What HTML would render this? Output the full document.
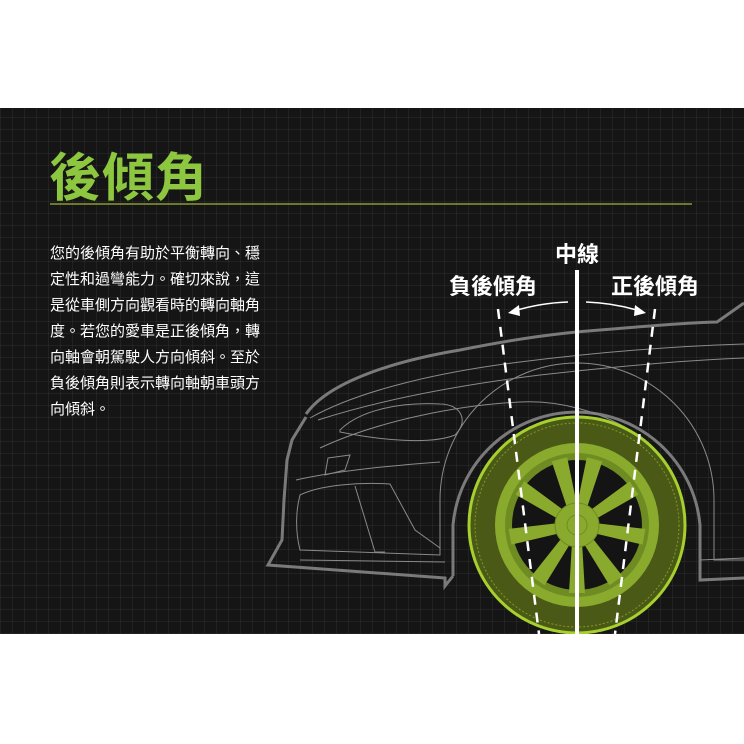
<!DOCTYPE html>
<html><head><meta charset="utf-8"><style>
html,body{margin:0;padding:0;background:#fff;}
body{width:744px;height:744px;position:relative;overflow:hidden;font-family:"Liberation Sans","Noto Sans CJK TC",sans-serif;}
#panel{position:absolute;left:0;top:108px;width:744px;height:526px;background-color:#151515;
background-image:repeating-linear-gradient(0deg,rgba(255,255,255,0.05) 0 1px,transparent 1px 12px),repeating-linear-gradient(90deg,rgba(255,255,255,0.05) 0 1px,transparent 1px 12px);}
.t{position:absolute;color:#fff;white-space:nowrap;}
</style></head><body>
<div id="panel"></div>
<svg width="744" height="744" style="position:absolute;left:0;top:0">
<defs><clipPath id="c"><rect x="0" y="108" width="744" height="526"/></clipPath></defs>
<g clip-path="url(#c)" fill="none">
<line x1="50" y1="204" x2="692" y2="204" stroke="#8a9a34" stroke-width="1.5"/>
<g stroke="#7a7a7a" stroke-width="3">
<path d="M306,414 C330,380 400,360 460,350 C520,338 560,333 600,330 C660,325 700,322 717,322 L744,303"/>
<path d="M306,417 L292,440 L287,460 L284,500 L282,540 L268,565 L445,578 L445,586 L453,576"/>
<path d="M453,576 L453,525 A124,124 0 0 1 700,525 L700,580 L744,578"/>
</g>
<g stroke="#8a8a8a" stroke-width="1">
<path d="M310,418 C360,390 440,372 520,362 C600,352 680,346 744,344"/>
<path d="M318,420 C380,400 460,385 540,375 C620,366 690,360 744,358"/>
<path d="M320,448 C380,420 460,405 520,402 C560,400 600,412 630,430"/>
<path d="M340,430 C360,410 400,402 440,404 C460,404 470,420 455,435 C430,445 380,440 340,432Z"/>
<path d="M296,480 C340,470 400,465 440,462"/>
<path d="M328,458 L350,455 L345,470 L325,475Z"/>
<path d="M300,495 C320,485 360,482 390,484 L415,530 L440,548 L440,555 L300,550 C295,530 296,510 300,495Z"/>
<path d="M355,486 L375,552 L385,552"/>
<path d="M440,555 L440,500 A137,137 0 0 1 714,500 L714,560 L744,560"/>
<path d="M300,560 L445,562"/>
<path d="M700,560 L744,558"/>
</g>
<circle cx="577" cy="525" r="108" fill="#4a5a16" stroke="#a7cf2e" stroke-width="3"/>
<circle cx="577" cy="525" r="102" stroke="#7d9a2a" stroke-width="1" stroke-dasharray="2 2"/>
<circle cx="577" cy="525" r="82" fill="#8aaa2e"/>
<circle cx="577" cy="525" r="72" fill="#6f8c22"/>
<circle cx="577" cy="525" r="65" fill="#141414"/>
<g fill="#8aaa2e">
<polygon points="-4,0 4,0 8,-68 -8,-68" transform="translate(577,525) rotate(-15)"/>
<polygon points="-4,0 4,0 8,-68 -8,-68" transform="translate(577,525) rotate(15)"/>
<polygon points="-4,0 4,0 8,-68 -8,-68" transform="translate(577,525) rotate(57)"/>
<polygon points="-4,0 4,0 8,-68 -8,-68" transform="translate(577,525) rotate(100)"/>
<polygon points="-4,0 4,0 8,-68 -8,-68" transform="translate(577,525) rotate(145)"/>
<polygon points="-4,0 4,0 8,-68 -8,-68" transform="translate(577,525) rotate(180)"/>
<polygon points="-4,0 4,0 8,-68 -8,-68" transform="translate(577,525) rotate(215)"/>
<polygon points="-4,0 4,0 8,-68 -8,-68" transform="translate(577,525) rotate(260)"/>
<polygon points="-4,0 4,0 8,-68 -8,-68" transform="translate(577,525) rotate(303)"/>
</g>
<circle cx="577" cy="525" r="22" fill="#8aaa2e" stroke="#6f8c22"/>
<circle cx="577" cy="525" r="10" stroke="#6f8c22"/>
<line x1="577" y1="270" x2="577" y2="634" stroke="#fff" stroke-width="4"/>
<line x1="498" y1="309" x2="539" y2="634" stroke="#fff" stroke-width="2.5" stroke-dasharray="10 8"/>
<line x1="655" y1="309" x2="615" y2="634" stroke="#fff" stroke-width="2.5" stroke-dasharray="10 8"/>
<path d="M568,302 Q540,303 514,311" stroke="#fff" stroke-width="1.5"/>
<path d="M586,302 Q614,303 640,311" stroke="#fff" stroke-width="1.5"/>
<polygon points="508,313 519,305 520,316" fill="#fff"/>
<polygon points="646,313 635,305 634,316" fill="#fff"/>
</g>
</svg>
<div class="t" style="left:49px;top:136px;font-size:52px;font-weight:bold;color:#8dc63f;letter-spacing:1px">後傾角</div>
<div class="t" style="left:50px;top:241px;font-size:15px;line-height:26px;">您的後傾角有助於平衡轉向、穩<br>定性和過彎能力。確切來說，這<br>是從車側方向觀看時的轉向軸角<br>度。若您的愛車是正後傾角，轉<br>向軸會朝駕駛人方向傾斜。至於<br>負後傾角則表示轉向軸朝車頭方<br>向傾斜。</div>
<div class="t" style="left:555px;top:237px;font-size:22px;font-weight:bold;">中線</div>
<div class="t" style="left:449px;top:269px;font-size:22px;font-weight:bold;">負後傾角</div>
<div class="t" style="left:611px;top:269px;font-size:22px;font-weight:bold;">正後傾角</div>
</body></html>
